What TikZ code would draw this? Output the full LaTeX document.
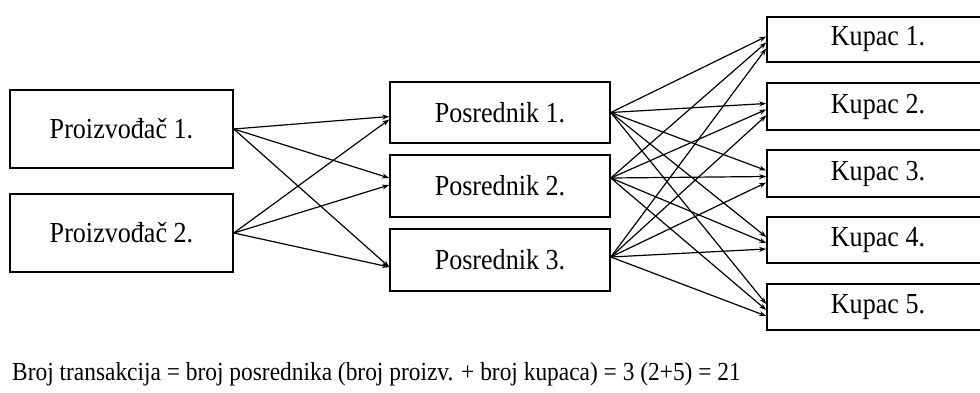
\documentclass[tikz,border=0pt]{standalone}
\usepackage{fontspec}
\setmainfont{Liberation Serif}[FakeStretch=0.9]
\usetikzlibrary{calc,arrows.meta}
\begin{document}
\begin{tikzpicture}[x=1pt,y=-1pt,
  box/.style={draw,line width=1.6pt,rectangle,inner sep=0pt,font=\fontsize{29}{32}\selectfont},
  conn/.style={line width=1.2pt,-{Stealth[length=7pt,width=5pt]}}]
\useasboundingbox (0,0) rectangle (980,392);
\node[box,minimum width=223pt,minimum height=78pt] (p1) at (121.5,129) {Proizvođač 1.};
\node[box,minimum width=223pt,minimum height=78pt] (p2) at (121.5,233) {Proizvođač 2.};
\node[box,minimum width=220pt,minimum height=61pt] (m1) at (500,112.5) {Posrednik 1.};
\node[box,minimum width=220pt,minimum height=62pt] (m2) at (500,186) {Posrednik 2.};
\node[box,minimum width=220pt,minimum height=62pt] (m3) at (500,260) {Posrednik 3.};
\node[box,minimum width=222pt,minimum height=45pt] (k1) at (878,39.5) {Kupac 1.};
\node[box,minimum width=222pt,minimum height=47pt] (k2) at (878,106.5) {Kupac 2.};
\node[box,minimum width=222pt,minimum height=47pt] (k3) at (878,173.5) {Kupac 3.};
\node[box,minimum width=222pt,minimum height=46pt] (k4) at (878,240) {Kupac 4.};
\node[box,minimum width=222pt,minimum height=46pt] (k5) at (878,307) {Kupac 5.};
% producers to intermediaries
\draw[conn] (p1.east) -- ($(m1.west)+(0,4)$);
\draw[conn] (p1.east) -- ($(m2.west)+(0,-8)$);
\draw[conn] (p1.east) -- ($(m3.west)+(0,7)$);
\draw[conn] (p2.east) -- ($(m1.west)+(0,7)$);
\draw[conn] (p2.east) -- ($(m2.west)+(0,-1)$);
\draw[conn] (p2.east) -- ($(m3.west)+(0,7)$);
% intermediaries to buyers
\foreach \k in {k1,k2,k3,k4,k5}{
  \draw[conn] (m1.east) -- ($(\k.west)+(0,-3)$);
  \draw[conn] ($(m2.east)+(0,-8)$) -- ($(\k.west)+(0,3)$);
  \draw[conn] ($(m3.east)+(0,-3)$) -- ($(\k.west)+(0,9)$);
}
\node[anchor=base west,inner sep=0pt,font=\fontsize{26}{30}\selectfont] (eq) at (12,380) {Broj transakcija = broj posrednika (broj proizv. + broj kupaca) = 3 (2+5) = 21};
\end{tikzpicture}
\end{document}
